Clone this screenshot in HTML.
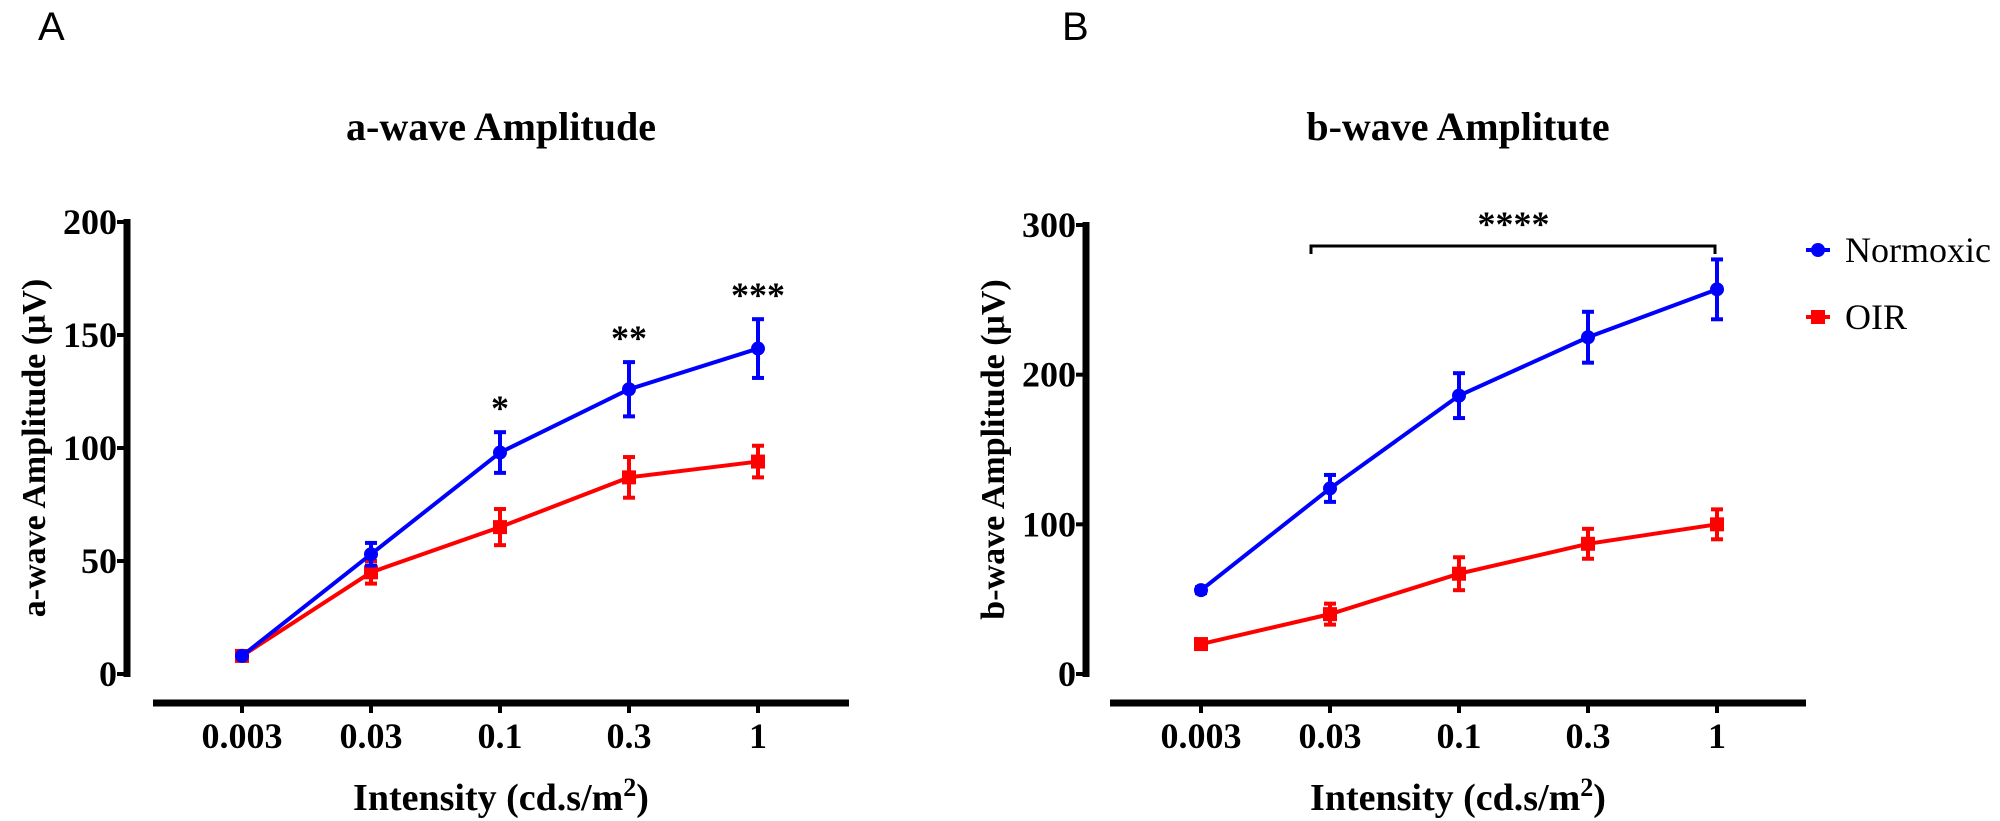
<!DOCTYPE html>
<html><head><meta charset="utf-8"><style>
html,body{margin:0;padding:0;background:#fff;}
svg{display:block;font-family:"Liberation Serif",serif;font-weight:bold;}
</style></head><body>
<svg id="chart" width="2000" height="821" viewBox="0 0 2000 821" xmlns="http://www.w3.org/2000/svg">
<text x="38" y="40" font-family="Liberation Sans,sans-serif" font-weight="normal" font-size="40">A</text>
<text x="1062" y="40" font-family="Liberation Sans,sans-serif" font-weight="normal" font-size="40">B</text>
<g id="pa"></g>
<g id="pb"></g>
<g>
<g>
<line x1="1806" y1="250" x2="1830" y2="250" stroke="#0000ff" stroke-width="4"/>
<circle cx="1818" cy="250" r="7" fill="#0000ff"/>
<text x="1845" y="262" font-weight="normal" font-size="36">Normoxic</text></g>
<g>
<line x1="1806" y1="317" x2="1830" y2="317" stroke="#ff0000" stroke-width="4"/>
<rect x="1811" y="310" width="14" height="14" fill="#ff0000"/>
<text x="1845" y="329" font-weight="normal" font-size="36">OIR</text></g>
</g>
</svg>
<script>
const categories = ["0.003","0.03","0.1","0.3","1"];
const aNormoxic = [8, 53, 98, 126, 144];
const aNormoxicErr = [1, 5, 9, 12, 13];
const aOIR = [8, 45, 65, 87, 94];
const aOIRErr = [1, 5, 8, 9, 7];
const bNormoxic = [56, 124, 186, 225, 257];
const bNormoxicErr = [2, 9, 15, 17, 20];
const bOIR = [20, 40, 67, 87, 100];
const bOIRErr = [3, 7, 11, 10, 10];
const aTicks = [0, 50, 100, 150, 200];
const bTicks = [0, 100, 200, 300];

const NS = "http://www.w3.org/2000/svg";
function mk(parent, tag, attrs, text) {
  const e = document.createElementNS(NS, tag);
  for (const k in attrs) e.setAttribute(k, attrs[k]);
  if (text !== undefined) e.textContent = text;
  parent.appendChild(e);
  return e;
}
function panel(g, cfg) {
  const xS = i => cfg.x0 + i * 129;
  const yS = v => 674 - (v / cfg.max) * (674 - cfg.yTop);
  const t = mk(g, "text", {x: (cfg.xa1 + cfg.xa2) / 2, y: 140, "text-anchor": "middle", "font-size": 40}, cfg.title);
  
  
  const ya = mk(g, "line", {x1: cfg.yx, y1: yS(cfg.max) - 3, x2: cfg.yx, y2: 677, stroke: "#000", "stroke-width": 7});
  
  
  cfg.ticks.forEach(v => {
    mk(g, "line", {x1: cfg.yx - 10, y1: yS(v), x2: cfg.yx, y2: yS(v), stroke: "#000", "stroke-width": 4});
    const l = mk(g, "text", {x: cfg.yx - 10, y: yS(v) + 12, "text-anchor": "end", "font-size": 36}, v);
    
    
  });
  const yt = mk(g, "text", {x: 0, y: 0, transform: `translate(${cfg.yx - 82},${(yS(cfg.max) + 674) / 2}) rotate(-90)`, "text-anchor": "middle", "font-size": 34}, cfg.ylab);
  
  
  const xa = mk(g, "line", {x1: cfg.xa1, y1: 703, x2: cfg.xa2, y2: 703, stroke: "#000", "stroke-width": 7});
  
  
  categories.forEach((c, i) => {
    mk(g, "line", {x1: xS(i), y1: 703, x2: xS(i), y2: 713, stroke: "#000", "stroke-width": 4});
    const l = mk(g, "text", {x: xS(i), y: 748, "text-anchor": "middle", "font-size": 36}, c);
    
    
  });
  const xt = mk(g, "text", {x: (cfg.xa1 + cfg.xa2) / 2, y: 810, "text-anchor": "middle", "font-size": 38}, "Intensity (cd.s/m");
  mk(xt, "tspan", {dy: -14, "font-size": 26}, "2");
  mk(xt, "tspan", {dy: 14}, ")");
  
  
  [[cfg.red, cfg.redErr, "#ff0000", "oir", false], [cfg.blue, cfg.blueErr, "#0000ff", "normoxic", true]].forEach(([vals, errs, col, nm, circ]) => {
    const s = mk(g, "g", {});
    
    
    mk(s, "polyline", {points: vals.map((v, i) => xS(i) + "," + yS(v)).join(" "), fill: "none", stroke: col, "stroke-width": 4});
    vals.forEach((v, i) => {
      const x = xS(i), e = errs[i];
      mk(s, "line", {x1: x, y1: yS(v + e), x2: x, y2: yS(v - e), stroke: col, "stroke-width": 4});
      mk(s, "line", {x1: x - 6, y1: yS(v + e), x2: x + 6, y2: yS(v + e), stroke: col, "stroke-width": 4});
      mk(s, "line", {x1: x - 6, y1: yS(v - e), x2: x + 6, y2: yS(v - e), stroke: col, "stroke-width": 4});
      const m = circ ? mk(s, "circle", {cx: x, cy: yS(v), r: 7, fill: col}) : mk(s, "rect", {x: x - 7, y: yS(v) - 7, width: 14, height: 14, fill: col});
      
      
    });
  });
  return {xS, yS};
}
const A = panel(document.getElementById("pa"), {x0: 242, yx: 127, yTop: 222, max: 200, xa1: 153, xa2: 849, ticks: aTicks, title: "a-wave Amplitude", ylab: "a-wave Amplitude (\u03BCV)", blue: aNormoxic, blueErr: aNormoxicErr, red: aOIR, redErr: aOIRErr});
const B = panel(document.getElementById("pb"), {x0: 1201, yx: 1086, yTop: 225, max: 300, xa1: 1110, xa2: 1806, ticks: bTicks, title: "b-wave Amplitute", ylab: "b-wave Amplitude (\u03BCV)", blue: bNormoxic, blueErr: bNormoxicErr, red: bOIR, redErr: bOIRErr});
const ga = document.getElementById("pa");
[["*", 2], ["**", 3], ["***", 4]].forEach(([s, i]) => {
  const t = mk(ga, "text", {x: A.xS(i), y: A.yS(aNormoxic[i] + aNormoxicErr[i]) - 12, "text-anchor": "middle", "font-size": 36}, s);
  
  
});
const gb = document.getElementById("pb");
const br = mk(gb, "path", {d: `M${B.xS(1) - 19},254 V246 H${B.xS(4) - 2} V254`, fill: "none", stroke: "#000", "stroke-width": 3});


const st = mk(gb, "text", {x: (B.xS(1) + B.xS(4)) / 2 - 10, y: 236, "text-anchor": "middle", "font-size": 36}, "****");


</script>
</body></html>
